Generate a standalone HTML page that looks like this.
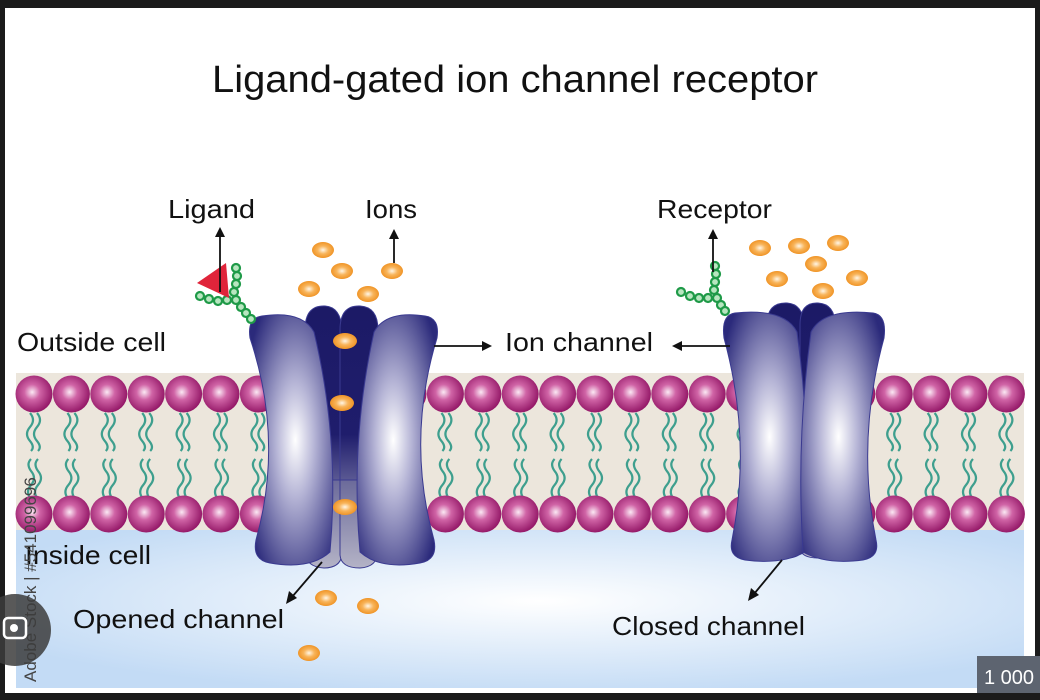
<!DOCTYPE html>
<html><head><meta charset="utf-8"><style>
html,body{margin:0;padding:0;background:#1b1b1b;}
svg{display:block}
text{font-family:"Liberation Sans",sans-serif;fill:#111}
</style></head><body>
<svg width="1040" height="700" viewBox="0 0 1040 700" xmlns="http://www.w3.org/2000/svg">
<defs>
<radialGradient id="head" cx="0.45" cy="0.45" r="0.6"><stop offset="0" stop-color="#fbe9f4"/><stop offset="0.35" stop-color="#d064a6"/><stop offset="1" stop-color="#8d0f60"/></radialGradient>
<radialGradient id="ion" cx="0.5" cy="0.5" r="0.55"><stop offset="0" stop-color="#fff6e6"/><stop offset="0.45" stop-color="#f8b45a"/><stop offset="1" stop-color="#ee8e1c"/></radialGradient>
<radialGradient id="sub" cx="0.55" cy="0.5" r="0.65"><stop offset="0" stop-color="#ffffff"/><stop offset="0.35" stop-color="#b6b5d6"/><stop offset="1" stop-color="#2b2a7b"/></radialGradient>
<radialGradient id="subR" cx="0.45" cy="0.5" r="0.65"><stop offset="0" stop-color="#ffffff"/><stop offset="0.35" stop-color="#b6b5d6"/><stop offset="1" stop-color="#2b2a7b"/></radialGradient>
<linearGradient id="core" x1="0" y1="0" x2="0" y2="1"><stop offset="0" stop-color="#1c1a66"/><stop offset="0.6" stop-color="#1f1d6c"/><stop offset="1" stop-color="#8e8db5"/></linearGradient>
<linearGradient id="grey" x1="0" y1="0" x2="0" y2="1"><stop offset="0" stop-color="#6b6a9a"/><stop offset="1" stop-color="#b4b3c6"/></linearGradient>
<radialGradient id="blue" cx="0.52" cy="0.45" r="0.6"><stop offset="0" stop-color="#ffffff"/><stop offset="1" stop-color="#c3dbf5"/></radialGradient>
<g id="tail" fill="none" stroke="#3e9f8e" stroke-width="2.2">
<path d="M-4,0 q6,7 0,14 q-6,7 0,14 q5,6 1,10"/><path d="M3,0 q6,7 0,14 q-6,7 0,14 q5,6 1,10"/>
<path d="M-3,46 q-5,5 0,12 q6,7 0,14 q-6,7 0,14"/><path d="M4,46 q-5,5 0,12 q6,7 0,14 q-6,7 0,14"/>
</g>
</defs>
<rect x="0" y="0" width="1040" height="700" fill="#1b1b1b"/>
<rect x="5" y="8" width="1030" height="685" fill="#ffffff"/>
<rect x="16" y="373" width="1008" height="158" fill="#ece6dc"/>
<rect x="16" y="530" width="1008" height="158" fill="url(#blue)"/>
<g>
<use href="#tail" x="34" y="413"/><use href="#tail" x="71.4" y="413"/><use href="#tail" x="108.8" y="413"/><use href="#tail" x="146.2" y="413"/><use href="#tail" x="183.6" y="413"/><use href="#tail" x="221" y="413"/><use href="#tail" x="258.4" y="413"/><use href="#tail" x="408" y="413"/><use href="#tail" x="445.4" y="413"/><use href="#tail" x="482.8" y="413"/><use href="#tail" x="520.2" y="413"/><use href="#tail" x="557.6" y="413"/><use href="#tail" x="595" y="413"/><use href="#tail" x="632.4" y="413"/><use href="#tail" x="669.8" y="413"/><use href="#tail" x="707.2" y="413"/><use href="#tail" x="744.6" y="413"/><use href="#tail" x="856.8" y="413"/><use href="#tail" x="894.2" y="413"/><use href="#tail" x="931.6" y="413"/><use href="#tail" x="969" y="413"/><use href="#tail" x="1006.4" y="413"/>
</g>
<g fill="url(#head)">
<circle cx="34" cy="394" r="18.5"/><circle cx="71.4" cy="394" r="18.5"/><circle cx="108.8" cy="394" r="18.5"/><circle cx="146.2" cy="394" r="18.5"/><circle cx="183.6" cy="394" r="18.5"/><circle cx="221" cy="394" r="18.5"/><circle cx="258.4" cy="394" r="18.5"/><circle cx="408" cy="394" r="18.5"/><circle cx="445.4" cy="394" r="18.5"/><circle cx="482.8" cy="394" r="18.5"/><circle cx="520.2" cy="394" r="18.5"/><circle cx="557.6" cy="394" r="18.5"/><circle cx="595" cy="394" r="18.5"/><circle cx="632.4" cy="394" r="18.5"/><circle cx="669.8" cy="394" r="18.5"/><circle cx="707.2" cy="394" r="18.5"/><circle cx="744.6" cy="394" r="18.5"/><circle cx="856.8" cy="394" r="18.5"/><circle cx="894.2" cy="394" r="18.5"/><circle cx="931.6" cy="394" r="18.5"/><circle cx="969" cy="394" r="18.5"/><circle cx="1006.4" cy="394" r="18.5"/>
<circle cx="34" cy="514" r="18.5"/><circle cx="71.4" cy="514" r="18.5"/><circle cx="108.8" cy="514" r="18.5"/><circle cx="146.2" cy="514" r="18.5"/><circle cx="183.6" cy="514" r="18.5"/><circle cx="221" cy="514" r="18.5"/><circle cx="258.4" cy="514" r="18.5"/><circle cx="408" cy="514" r="18.5"/><circle cx="445.4" cy="514" r="18.5"/><circle cx="482.8" cy="514" r="18.5"/><circle cx="520.2" cy="514" r="18.5"/><circle cx="557.6" cy="514" r="18.5"/><circle cx="595" cy="514" r="18.5"/><circle cx="632.4" cy="514" r="18.5"/><circle cx="669.8" cy="514" r="18.5"/><circle cx="707.2" cy="514" r="18.5"/><circle cx="744.6" cy="514" r="18.5"/><circle cx="856.8" cy="514" r="18.5"/><circle cx="894.2" cy="514" r="18.5"/><circle cx="931.6" cy="514" r="18.5"/><circle cx="969" cy="514" r="18.5"/><circle cx="1006.4" cy="514" r="18.5"/>
</g>

<!-- Left channel (open) -->
<g stroke="#3a3a90" stroke-width="1">
<path d="M305,330 Q305,305 325,306 Q341,307 342,330 L342,520 L305,520 Z" fill="url(#core)"/>
<path d="M340,330 Q340,305 360,306 Q378,307 378,330 L378,520 L340,520 Z" fill="url(#core)"/>
<path d="M305,480 L342,480 L342,555 Q340,568 324,568 Q306,567 305,552 Z" fill="url(#grey)"/>
<path d="M340,480 L378,480 L378,552 Q377,567 360,568 Q341,568 340,555 Z" fill="url(#grey)"/>
<path d="M262,316 Q302,310 314,332 Q340,440 330,552 Q310,570 270,563 Q252,560 256,540 Q284,440 250,338 Q247,318 262,316 Z" fill="url(#sub)"/>
<path d="M425,316 Q386,310 374,332 Q350,440 360,552 Q380,570 420,563 Q438,560 434,540 Q406,440 437,338 Q440,318 425,316 Z" fill="url(#subR)"/>
</g>
<!-- Right channel (closed) -->
<g stroke="#3a3a90" stroke-width="1">
<path d="M767,325 Q767,302 787,303 Q803,304 804,325 L804,520 L767,520 Z" fill="url(#core)"/>
<path d="M800,325 Q800,302 818,303 Q835,304 835,325 L835,520 L800,520 Z" fill="url(#core)"/>
<path d="M768,490 L803,490 L803,548 Q801,558 786,558 Q769,557 768,546 Z" fill="url(#grey)"/>
<path d="M800,490 L835,490 L835,546 Q834,557 818,558 Q801,558 800,548 Z" fill="url(#grey)"/>
<path d="M735,313 Q785,308 797,332 Q812,440 805,552 Q782,565 745,560 Q728,557 732,540 Q752,440 724,338 Q721,315 735,313 Z" fill="url(#sub)"/>
<path d="M873,313 Q823,308 811,332 Q796,440 803,552 Q826,565 863,560 Q880,557 876,540 Q856,440 884,338 Q887,315 873,313 Z" fill="url(#subR)"/>
</g>

<g fill="url(#ion)">
<ellipse cx="323" cy="250" rx="11" ry="8"/><ellipse cx="342" cy="271" rx="11" ry="8"/><ellipse cx="309" cy="289" rx="11" ry="8"/><ellipse cx="368" cy="294" rx="11" ry="8"/><ellipse cx="392" cy="271" rx="11" ry="8"/>
<ellipse cx="345" cy="341" rx="12" ry="8"/><ellipse cx="342" cy="403" rx="12" ry="8"/><ellipse cx="345" cy="507" rx="12" ry="8"/>
<ellipse cx="326" cy="598" rx="11" ry="8"/><ellipse cx="368" cy="606" rx="11" ry="8"/><ellipse cx="309" cy="653" rx="11" ry="8"/>
<ellipse cx="760" cy="248" rx="11" ry="8"/><ellipse cx="799" cy="246" rx="11" ry="8"/><ellipse cx="838" cy="243" rx="11" ry="8"/><ellipse cx="816" cy="264" rx="11" ry="8"/><ellipse cx="777" cy="279" rx="11" ry="8"/><ellipse cx="857" cy="278" rx="11" ry="8"/><ellipse cx="823" cy="291" rx="11" ry="8"/>
</g>

<g fill="#b8e6c0" stroke="#1f9a48" stroke-width="2.2">
<circle cx="236" cy="268" r="4"/><circle cx="237" cy="276" r="4"/><circle cx="236" cy="284" r="4"/><circle cx="234" cy="292" r="4"/>
<circle cx="200" cy="296" r="4"/><circle cx="209" cy="299" r="4"/><circle cx="218" cy="301" r="4"/><circle cx="227" cy="300" r="4"/>
<circle cx="236" cy="300" r="4"/><circle cx="241" cy="307" r="4"/><circle cx="246" cy="313" r="4"/><circle cx="251" cy="319" r="4"/>
<circle cx="715" cy="266" r="4"/><circle cx="716" cy="274" r="4"/><circle cx="715" cy="282" r="4"/><circle cx="714" cy="290" r="4"/>
<circle cx="681" cy="292" r="4"/><circle cx="690" cy="296" r="4"/><circle cx="699" cy="298" r="4"/><circle cx="708" cy="298" r="4"/>
<circle cx="717" cy="298" r="4"/><circle cx="721" cy="305" r="4"/><circle cx="725" cy="311" r="4"/>
</g>
<polygon points="197,283 226,263 229,298" fill="#e0243a"/>

<g stroke="#111" stroke-width="1.8" fill="none">
<line x1="220" y1="292" x2="220" y2="236"/><line x1="394" y1="263" x2="394" y2="238"/><line x1="713" y1="272" x2="713" y2="238"/>
<line x1="434" y1="346" x2="484" y2="346"/><line x1="730" y1="346" x2="680" y2="346"/>
<line x1="322" y1="562" x2="292" y2="597"/><line x1="782" y1="560" x2="754" y2="594"/>
</g>
<g fill="#111">
<polygon points="220,227 215,237 225,237"/><polygon points="394,229 389,239 399,239"/><polygon points="713,229 708,239 718,239"/>
<polygon points="492,346 482,341 482,351"/><polygon points="672,346 682,341 682,351"/>
<polygon points="286,604 289,591 297,598"/><polygon points="748,601 751,588 759,595"/>
</g>

<text x="212" y="92" font-size="38" textLength="606" lengthAdjust="spacingAndGlyphs">Ligand-gated ion channel receptor</text>
<text x="168" y="218" font-size="26" textLength="87" lengthAdjust="spacingAndGlyphs">Ligand</text>
<text x="365" y="218" font-size="26" textLength="52" lengthAdjust="spacingAndGlyphs">Ions</text>
<text x="657" y="218" font-size="26" textLength="115" lengthAdjust="spacingAndGlyphs">Receptor</text>
<text x="17" y="351" font-size="26" textLength="149" lengthAdjust="spacingAndGlyphs">Outside cell</text>
<text x="505" y="351" font-size="26" textLength="148" lengthAdjust="spacingAndGlyphs">Ion channel</text>
<text x="25" y="564" font-size="26" textLength="126" lengthAdjust="spacingAndGlyphs">Inside cell</text>
<text x="73" y="628" font-size="26" textLength="211" lengthAdjust="spacingAndGlyphs">Opened channel</text>
<text x="612" y="635" font-size="26" textLength="193" lengthAdjust="spacingAndGlyphs">Closed channel</text>

<text transform="translate(36,682) rotate(-90)" font-size="17" style="fill:#444">Adobe Stock | #541099696</text>
<circle cx="15" cy="630" r="36" fill="#3c3c3c" opacity="0.85"/>
<rect x="4" y="618" width="22" height="20" rx="4" fill="none" stroke="#fff" stroke-width="2.5"/>
<circle cx="14" cy="628" r="4" fill="#fff"/>
<rect x="977" y="656" width="63" height="37" fill="#5d6470"/>
<text x="984" y="684" font-size="20" style="fill:#fff">1 000</text>
</svg>
</body></html>
